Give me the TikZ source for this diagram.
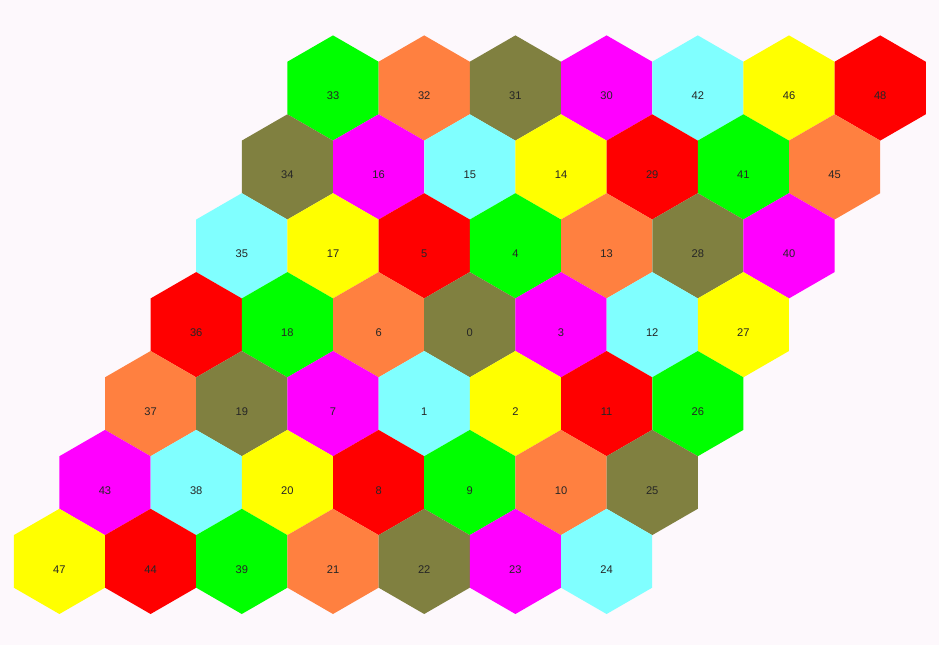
\documentclass[tikz,border=0pt]{standalone}
\usepackage{fontspec}
\setmainfont{Liberation Sans}
\usetikzlibrary{positioning}

\definecolor{bgpink}{RGB}{253,248,252}
\definecolor{hex0}{RGB}{0,255,0}     % green
\definecolor{hex1}{RGB}{255,128,64}  % orange
\definecolor{hex2}{RGB}{128,128,64}  % olive
\definecolor{hex3}{RGB}{255,0,255}   % magenta
\definecolor{hex4}{RGB}{128,255,255} % cyan
\definecolor{hex5}{RGB}{255,255,0}   % yellow
\definecolor{hex6}{RGB}{255,0,0}     % red

\begin{document}
\begin{tikzpicture}[x=0.03cm, y=-0.03cm,
    num/.style={font=\fontsize{9.5}{11}\selectfont, text=black!85, inner sep=0pt}]
  \fill[bgpink] (0,0) rectangle (939,645);
  \useasboundingbox (0,0) rectangle (939,645);
  % rows of cells, top to bottom
  \foreach \r/\cells in {0/{33,32,31,30,42,46,48},
                         1/{34,16,15,14,29,41,45},
                         2/{35,17,5,4,13,28,40},
                         3/{36,18,6,0,3,12,27},
                         4/{37,19,7,1,2,11,26},
                         5/{43,38,20,8,9,10,25},
                         6/{47,44,39,21,22,23,24}} {
    \foreach \n [count=\c from 0] in \cells {
      \pgfmathtruncatemacro\k{mod(\c+2*\r,7)}
      \pgfmathsetmacro\cx{333+91.2*\c-45.6*\r}
      \pgfmathsetmacro\cy{88+78.9*\r}
      \fill[hex\k] (\cx,\cy) +(30:52.6) -- +(90:52.6) -- +(150:52.6)
        -- +(210:52.6) -- +(270:52.6) -- +(330:52.6) -- cycle;
      \node[num] (cell\n) at (\cx,\cy+8) {\n};
    }
  }
\end{tikzpicture}
\end{document}
